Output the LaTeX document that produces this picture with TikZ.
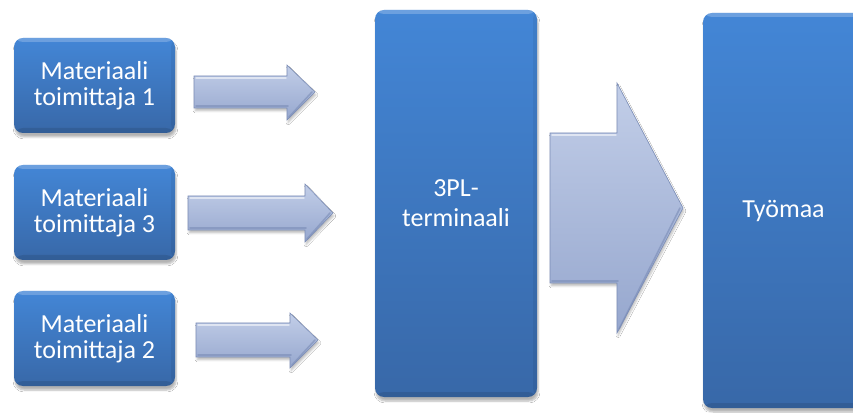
\documentclass[tikz,border=0pt]{standalone}
\usepackage{fontspec}
\setmainfont{Carlito}
\usetikzlibrary{shadows.blur}

\definecolor{boxtop}{RGB}{67,134,214}
\definecolor{boxbot}{RGB}{56,104,168}
\definecolor{arrtop}{RGB}{194,206,232}
\definecolor{arrbot}{RGB}{150,167,206}
\definecolor{arredge}{RGB}{122,140,182}

\tikzset{
  stage/.style={
    rounded corners=9pt, top color=boxtop, bottom color=boxbot,
    text=white, align=center, inner sep=0pt,
    font=\fontsize{26}{26}\selectfont,
    blur shadow={shadow xshift=1pt, shadow yshift=-4pt,
                 shadow blur steps=6, shadow opacity=30},
    path picture={
      \fill[white,opacity=.22] (path picture bounding box.north west)
        rectangle ([yshift=-4pt]path picture bounding box.north east);
      \fill[black,opacity=.10] (path picture bounding box.south west)
        rectangle ([yshift=5pt]path picture bounding box.south east);
      \fill[black,opacity=.06] (path picture bounding box.south east)
        rectangle ([xshift=-4pt]path picture bounding box.north east);
    }},
  supplier/.style={stage, minimum width=161pt, minimum height=95pt},
  hub/.style={stage, minimum width=162pt, minimum height=387pt},
  flowarrow/.style={
    top color=arrtop, bottom color=arrbot, draw=arredge, line width=0.6pt,
    line join=miter,
    blur shadow={shadow xshift=1pt, shadow yshift=-3pt,
                 shadow blur steps=5, shadow opacity=25}},
  gloss/.style={white, opacity=.55, line width=1.4pt, line cap=round},
  shade edge/.style={arredge, opacity=.6, line width=1.6pt, line cap=round}
}

\begin{document}
\begin{tikzpicture}[x=1pt,y=1pt]
  \useasboundingbox (0,0) rectangle (853,412);
  \fill[white] (0,0) rectangle (853,412);

  % suppliers
  \node[supplier] (s1) at (94.5,326.5) {Materiaali\\toimittaja 1};
  \node[supplier] (s3) at (94.5,199.5) {Materiaali\\toimittaja 3};
  \node[supplier] (s2) at (94.5,73.5)  {Materiaali\\toimittaja 2};

  % terminal and site
  \node[hub] (t) at (456,208.5) {3PL-\\[4pt]terminaali};
  \node[hub, minimum width=161pt, minimum height=395pt] (w) at (783.5,201.5) {Työmaa};

  % block arrows from the suppliers
  \path[flowarrow] (194,336) -- (287,336) -- (287,347) -- (315,320)
     -- (287,292) -- (287,304) -- (194,304) -- cycle;
  \draw[gloss] (196,334) -- (286,334);
  \draw[shade edge] (196,306) -- (288,306) (289,295) -- (312,320);

  \path[flowarrow] (188,216) -- (305,216) -- (305,228) -- (333,199)
     -- (305,170) -- (305,182) -- (188,182) -- cycle;
  \draw[gloss] (190,214) -- (304,214);
  \draw[shade edge] (190,184) -- (306,184) (307,173) -- (330,199);

  \path[flowarrow] (196,89) -- (290,89) -- (290,99) -- (318,72)
     -- (290,44) -- (290,55) -- (196,55) -- cycle;
  \draw[gloss] (198,87) -- (289,87);
  \draw[shade edge] (198,57) -- (291,57) (292,47) -- (315,72);

  % big arrow from the terminal to the site
  \path[flowarrow] (550,279) -- (617,279) -- (617,329) -- (683,204)
     -- (617,79) -- (617,129) -- (550,129) -- cycle;
  \draw[gloss] (552,277) -- (616,277);
  \draw[shade edge] (552,131) -- (618,131) (619,83) -- (680,204);
\end{tikzpicture}
\end{document}
